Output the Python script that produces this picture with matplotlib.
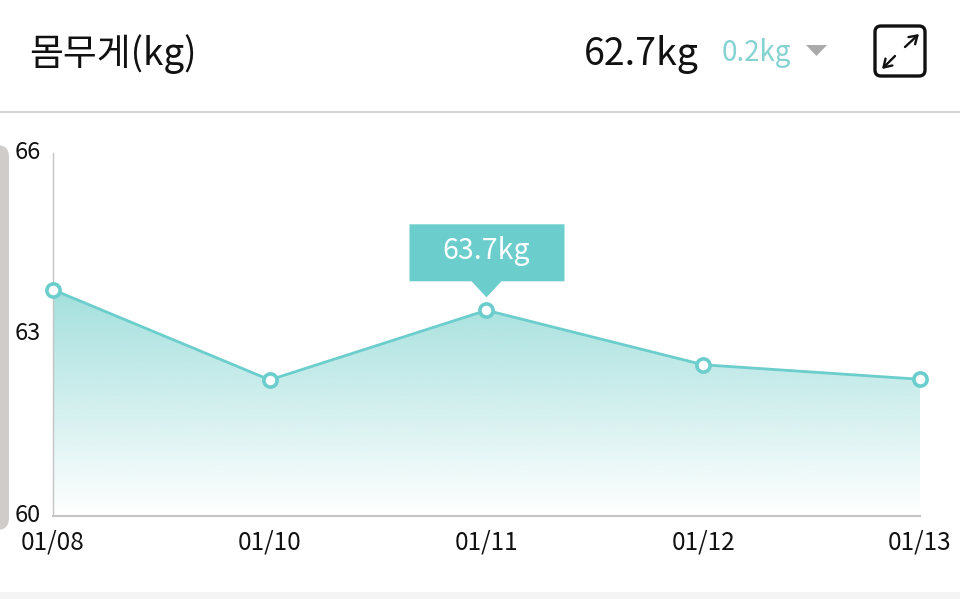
import matplotlib
matplotlib.use('Agg')
import matplotlib.pyplot as plt
import matplotlib.patches as mpatches
from matplotlib.transforms import ScaledTranslation
import numpy as np

plt.rcParams['font.family'] = ['Noto Sans CJK KR', 'DejaVu Sans']

# data
dates = ['01/08', '01/10', '01/11', '01/12', '01/13']
weights = [63.74, 62.25, 63.40, 62.50, 62.26]
y_ticks = [60, 63, 66]

teal = '#6ccdcd'
W, H = 960, 599

fig = plt.figure(figsize=(W / 100, H / 100), dpi=100, facecolor='white')

# overlay in pixel coordinates for the app chrome
bg = fig.add_axes([0, 0, 1, 1], zorder=0)
bg.set_xlim(0, W)
bg.set_ylim(H, 0)
bg.axis('off')

bg.plot([0, W], [112, 112], color='#d6d6d6', lw=1.5)
bg.add_patch(mpatches.Rectangle((0, 592), W, 7, color='#f4f4f4', lw=0))
bg.add_patch(mpatches.FancyBboxPatch((-20, 145), 29, 385, boxstyle='round,pad=0,rounding_size=12',
                                     facecolor='#cfccc9', edgecolor='none'))

bg.text(29, 54, '몸무게(kg)', fontsize=26.5, color='#111111', va='center', ha='left')
bg.text(584, 54, '62.7kg', fontsize=27, color='#111111', va='center', ha='left')
bg.text(722, 53, '0.2kg', fontsize=20, color='#86d2d2', va='center', ha='left')
bg.add_patch(mpatches.Polygon([[806, 45], [827, 45], [816.5, 56]], color='#aaaaaa', lw=0))

# expand icon
bg.add_patch(mpatches.FancyBboxPatch((875, 26), 50, 50, boxstyle='round,pad=0,rounding_size=6',
                                     facecolor='white', edgecolor='#111111', lw=2.4))
for start, end in [((905, 47), (919, 34)), ((895, 56), (882, 69))]:
    bg.annotate('', xy=end, xytext=start,
                arrowprops=dict(arrowstyle='->,head_length=0.55,head_width=0.35', color='#111111', lw=1.7,
                                shrinkA=0, shrinkB=0))

# chart
ax = fig.add_axes([53 / W, (H - 516) / H, 867 / W, 363 / H], zorder=1)
ax.patch.set_alpha(0)
x = np.arange(len(dates))

ax.set_xticks(x)
ax.set_xticklabels(dates, fontsize=17.5, color='#111111')
ax.set_yticks(y_ticks)
ax.set_yticklabels([str(v) for v in y_ticks], fontsize=17, color='#111111')
ax.tick_params(axis='both', length=0)
ax.tick_params(axis='x', pad=10)
ax.tick_params(axis='y', pad=9)
nudge = ScaledTranslation(0, 3 / 100, fig.dpi_scale_trans)
for label in ax.get_yticklabels():
    label.set_transform(label.get_transform() + nudge)
for s in ['top', 'right']:
    ax.spines[s].set_visible(False)
ax.spines['left'].set_color('#c4c4c4')
ax.spines['bottom'].set_color('#c4c4c4')
ax.spines['bottom'].set_linewidth(1.5)
ax.spines['left'].set_linewidth(1)

# gradient under the line, clipped to the area polygon
rgba = np.ones((256, 1, 4))
rgba[..., :3] = matplotlib.colors.to_rgb('#98dcd9')
rgba[..., 3] = np.linspace(0, 0.9, 256).reshape(-1, 1)
im = ax.imshow(rgba, extent=[0, len(dates) - 1, 60, max(weights)], origin='lower', aspect='auto', zorder=1)
clip = mpatches.Polygon(np.column_stack([np.r_[x, x[-1], x[0]], np.r_[weights, 60, 60]]),
                        transform=ax.transData, facecolor='none', edgecolor='none')
ax.add_patch(clip)
im.set_clip_path(clip)
ax.set_xlim(0, len(dates) - 1)
ax.set_ylim(60, 66)

ax.plot(x, weights, color=teal, lw=2.0, zorder=3, clip_on=False)
ax.plot(x, weights, ls='', marker='o', ms=9.5, mfc='white', mec=teal, mew=2.6, zorder=4, clip_on=False)

# tooltip anchored on the 01/11 point
i = 2
tx, ty = bg.transData.inverted().transform(ax.transData.transform((x[i], weights[i])))
top = fig.add_axes([0, 0, 1, 1], zorder=2)
top.set_xlim(0, W)
top.set_ylim(H, 0)
top.axis('off')
top.add_patch(mpatches.Polygon([[tx - 77, ty - 86], [tx + 78, ty - 86], [tx + 78, ty - 29], [tx + 15, ty - 29],
                                [tx, ty - 13], [tx - 15, ty - 29], [tx - 77, ty - 29]],
                               facecolor=teal, edgecolor='none'))
top.text(tx, ty - 59, '63.7kg', color='white', fontsize=20.5, ha='center', va='center')

fig.savefig('out.png', dpi=100)
